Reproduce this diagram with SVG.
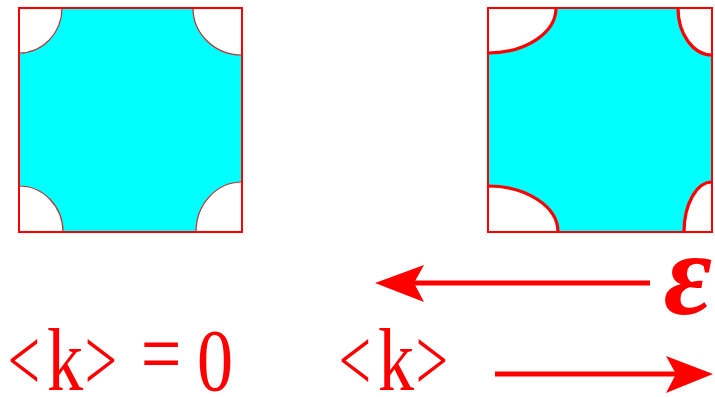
<svg xmlns="http://www.w3.org/2000/svg" width="715" height="397" viewBox="0 0 715 397">
<style>
.fill{fill:#00ffff;stroke:none}
.box{fill:none;stroke:#ff0000;stroke-width:2}
.thin{fill:none;stroke:#c03030;stroke-width:1.2}
.thick{fill:none;stroke:#ff0000;stroke-width:3.2}
.lbl{font-family:"Liberation Serif","Times New Roman",serif;font-size:88px;fill:#ff0000;text-anchor:middle}
.eps{font-family:"Liberation Serif","Times New Roman",serif;font-style:italic;font-weight:bold;font-size:118px;fill:#ff0000;text-anchor:middle}
.shaft{stroke:#ff0000;stroke-width:5;fill:none}
.head{fill:#ff0000}
</style>
<rect width="715" height="397" fill="#ffffff"/>
<g id="square-left">
<path class="fill" d="M62,8 L193,8 A49,47 0 0 0 242,55 L242,182 A46,50 0 0 0 196,232 L63,232 A44,46 0 0 0 19,186 L19,53 A43,45 0 0 0 62,8 Z"/>
<path class="thin" d="M193,8 A49,47 0 0 0 242,55 M242,182 A46,50 0 0 0 196,232 M63,232 A44,46 0 0 0 19,186 M19,53 A43,45 0 0 0 62,8"/>
<rect class="box" x="19" y="8" width="223" height="224"/>
</g>
<g id="square-right">
<path class="fill" d="M556,8 L678,8 A34,47 0 0 0 712,55 L712,182 A28,50 0 0 0 684,232 L558,232 A70,46 0 0 0 488,186 L488,53 A68,45 0 0 0 556,8 Z"/>
<path class="thick" d="M678,8 A34,47 0 0 0 712,55 M712,182 A28,50 0 0 0 684,232 M558,232 A70,46 0 0 0 488,186 M488,53 A68,45 0 0 0 556,8"/>
<rect class="box" x="488" y="8" width="224" height="224"/>
</g>
<g id="connectors">
<line class="shaft" x1="650" y1="283" x2="412" y2="283"/>
<polygon class="head" points="375,283 424,265 414,283 424,302"/>
<line class="shaft" x1="495" y1="374" x2="678" y2="374"/>
<polygon class="head" points="713,374 666,356 676,374 666,393"/>
</g>
<g id="label-epsilon">
<text class="eps" x="688" y="314">ε</text>
</g>
<g id="label-left">
<text class="lbl" transform="translate(24,390) scale(0.65,1)">&lt;</text>
<text class="lbl" transform="translate(65,390) scale(0.82,1)">k</text>
<text class="lbl" transform="translate(101,390) scale(0.65,1)">&gt;</text>
<text class="lbl" transform="translate(161,383) scale(0.82,1)">=</text>
<text class="lbl" transform="translate(215,390) scale(0.82,1)">0</text>
</g>
<g id="label-right">
<text class="lbl" transform="translate(355,390) scale(0.65,1)">&lt;</text>
<text class="lbl" transform="translate(396,390) scale(0.82,1)">k</text>
<text class="lbl" transform="translate(432,390) scale(0.65,1)">&gt;</text>
</g>
</svg>
